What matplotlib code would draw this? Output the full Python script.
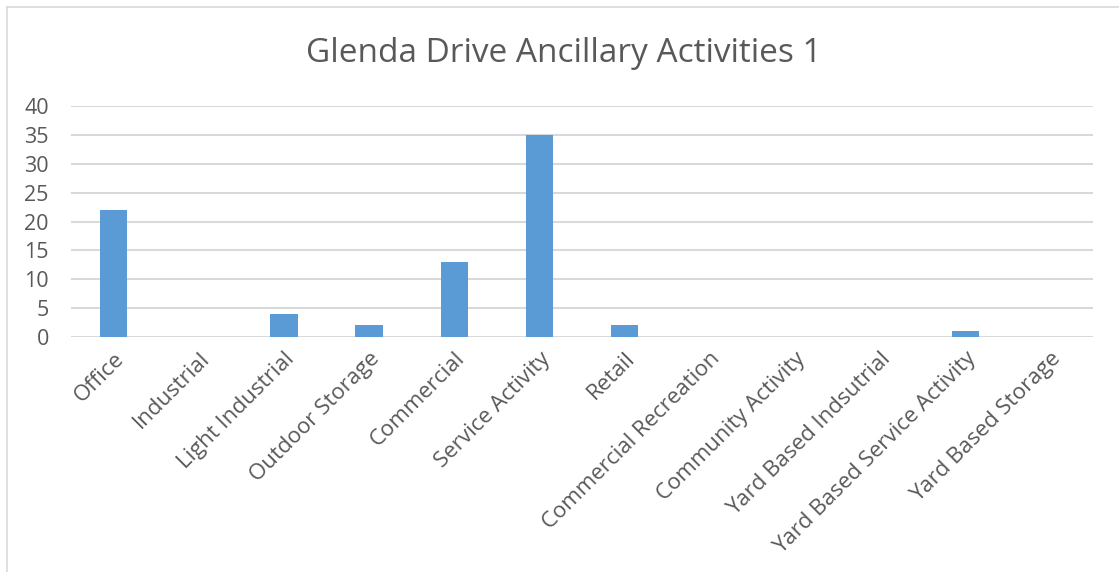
import matplotlib
matplotlib.use("Agg")
import matplotlib.pyplot as plt
from matplotlib.lines import Line2D

categories = ["Office", "Industrial", "Light Industrial", "Outdoor Storage", "Commercial",
              "Service Activity", "Retail", "Commercial Recreation", "Community Activity",
              "Yard Based Indsutrial", "Yard Based Service Activity", "Yard Based Storage"]
counts = [22, 0, 4, 2, 13, 35, 2, 0, 0, 0, 1, 0]
y_ticks = [0, 5, 10, 15, 20, 25, 30, 35, 40]

plt.rcParams["font.family"] = ["Open Sans", "DejaVu Sans"]
text_color = "#595959"
grid_color = "#D9D9D9"
bar_color = "#5B9BD5"

W, H = 1119, 572
fig = plt.figure(figsize=(W / 100, H / 100), dpi=100)
ax = fig.add_axes([71 / W, 1 - 337 / H, (1093 - 71) / W, (337 - 106) / H])

x = range(len(categories))
ax.bar(x, counts, width=0.32, color=bar_color, zorder=3)
ax.set_xlim(-0.5, len(categories) - 0.5)
ax.set_ylim(0, 40)
ax.set_yticks(y_ticks)
ax.set_yticklabels([str(v) for v in y_ticks], fontsize=15.5, color=text_color)
ax.set_xticks(list(x))
ax.set_xticklabels(categories, rotation=45, ha="right", va="top", rotation_mode="anchor",
                   fontsize=16, color=text_color)
ax.tick_params(axis="both", length=0)
ax.tick_params(axis="y", pad=16)
ax.tick_params(axis="x", pad=8)
for s in ax.spines.values():
    s.set_visible(False)
ax.grid(axis="y", color=grid_color, linewidth=1.5, zorder=0)
ax.set_axisbelow(True)

fig.text(564 / W, 1 - 53 / H, "Glenda Drive Ancillary Activities 1", ha="center", va="center",
         fontsize=24, color=text_color)

# chart area frame along the top and left edges
fig.add_artist(Line2D([7 / W, 1.0], [1 - 7 / H, 1 - 7 / H], color=grid_color, linewidth=1.2,
                      transform=fig.transFigure))
fig.add_artist(Line2D([7 / W, 7 / W], [0, 1 - 7 / H], color=grid_color, linewidth=1.2,
                      transform=fig.transFigure))

fig.savefig("out.png", dpi=100, facecolor="white")
